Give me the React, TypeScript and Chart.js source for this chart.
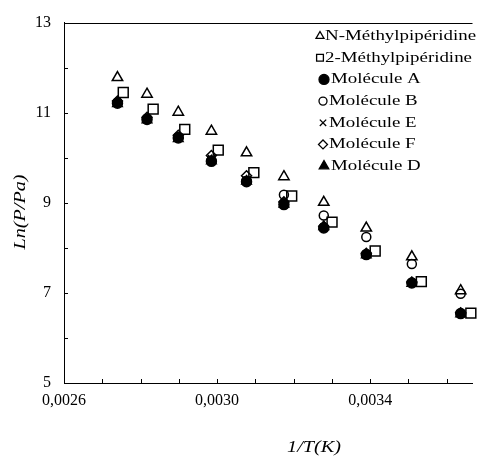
import React, { useEffect, useRef } from 'react';
import { Chart, registerables } from 'chart.js';
import { drawPoint } from 'chart.js/helpers';

Chart.register(...registerables);

// ---- data ----
const seriesNames = [
  'N-Méthylpipéridine',
  '2-Méthylpipéridine',
  'Molécule A',
  'Molécule B',
  'Molécule E',
  'Molécule F',
  'Molécule D',
];

// 1/T (K^-1)
const xMain = [0.0027397, 0.0028169, 0.0028986, 0.0029851, 0.0030769, 0.0031746, 0.0032787, 0.0033898, 0.0035088, 0.0036364];
const xSquare = [0.0027548, 0.0028329, 0.0029155, 0.003003, 0.003096, 0.0031949, 0.0033003, 0.003413, 0.0035336, 0.003663];

const yNMethyl = [11.78, 11.41, 11.01, 10.59, 10.11, 9.58, 9.01, 8.44, 7.8, 7.05];
const y2Methyl = [11.45, 11.08, 10.63, 10.17, 9.67, 9.15, 8.57, 7.93, 7.25, 6.55];
const yMolA = [11.21, 10.85, 10.44, 9.92, 9.47, 8.96, 8.44, 7.85, 7.22, 6.54];
const yMolB = [11.23, 10.87, 10.46, 9.94, 9.49, 9.18, 8.72, 8.24, 7.64, 6.98];
const yMolE = [11.22, 10.86, 10.45, 9.98, 9.5, 8.99, 8.46, 7.86, 7.23, 6.55];
const yMolF = [11.26, 10.9, 10.5, 10.05, 9.6, 9.02, 8.48, 7.88, 7.24, 6.56];
const yMolD = [11.2, 10.84, 10.42, 9.93, 9.48, 8.97, 8.47, 7.84, 7.21, 6.53];

const xTickValues = [0.0026, 0.0027, 0.0028, 0.0029, 0.003, 0.0031, 0.0032, 0.0033, 0.0034, 0.0035, 0.0036];
const xLabelledTicks = [0.0026, 0.003, 0.0034];
const yLabelledTicks = [5, 7, 9, 11, 13];

const X_MIN = 0.0026;
const X_MAX = 0.0036673;
const Y_MIN = 5;
const Y_MAX = 13;

// ---- styles ----
type Sty = { style: string; r: number; filled: boolean; lr: number; lx: number; tx: number; order: number };
const styles: Sty[] = [
  { style: 'triangle', r: 6, filled: false, lr: 4.6, lx: 320, tx: 325, order: 7 },
  { style: 'rect', r: 7, filled: false, lr: 4.8, lx: 320, tx: 325, order: 6 },
  { style: 'circle', r: 5, filled: true, lr: 5, lx: 324, tx: 331, order: 4 },
  { style: 'circle', r: 4.5, filled: false, lr: 4, lx: 323, tx: 329, order: 5 },
  { style: 'crossRot', r: 5, filled: false, lr: 4.5, lx: 323, tx: 329, order: 2 },
  { style: 'rectRot', r: 5, filled: false, lr: 4.5, lx: 323, tx: 329, order: 1 },
  { style: 'triangle', r: 5.5, filled: true, lr: 5.5, lx: 324, tx: 331, order: 3 },
];

const seriesY = [yNMethyl, y2Methyl, yMolA, yMolB, yMolE, yMolF, yMolD];
const seriesX = [xMain, xSquare, xMain, xMain, xMain, xMain, xMain];

const FONT = '"Liberation Serif", "Times New Roman", serif';
const STRETCH = 1.26;

const fmtX = (v: number) => v.toFixed(4).replace('.', ',');

const decorPlugin = {
  id: 'decor',
  afterDraw(chart: any) {
    const { ctx, chartArea: a, scales } = chart;
    const xs = scales.x;
    const ys = scales.y;
    ctx.save();
    ctx.strokeStyle = '#000';
    ctx.lineWidth = 1;
    // top border
    ctx.beginPath();
    ctx.moveTo(a.left, Math.round(a.top) + 0.5);
    ctx.lineTo(a.right, Math.round(a.top) + 0.5);
    ctx.stroke();
    // inward tick marks
    ctx.beginPath();
    for (const v of xTickValues) {
      const px = Math.round(xs.getPixelForValue(v)) + 0.5;
      ctx.moveTo(px, a.bottom);
      ctx.lineTo(px, a.bottom - 4);
    }
    for (let v = Y_MIN; v <= Y_MAX; v++) {
      const py = Math.round(ys.getPixelForValue(v)) + 0.5;
      ctx.moveTo(a.left, py);
      ctx.lineTo(a.left + 4, py);
    }
    ctx.stroke();

    // axis titles
    ctx.fillStyle = '#000';
    ctx.textAlign = 'center';
    ctx.textBaseline = 'middle';
    ctx.font = 'italic 16px ' + FONT;
    ctx.save();
    ctx.translate(314, 448);
    ctx.scale(STRETCH, 1);
    ctx.fillText('1/T(K)', 0, 0);
    ctx.restore();
    ctx.save();
    ctx.translate(21, 212);
    ctx.rotate(-Math.PI / 2);
    ctx.scale(STRETCH, 1);
    ctx.fillText('Ln(P/Pa)', 0, 0);
    ctx.restore();

    // legend
    ctx.font = '15px ' + FONT;
    ctx.textAlign = 'left';
    const top = a.top + 13.5;
    const step = 21.67;
    seriesNames.forEach((name, i) => {
      const s = styles[i];
      const y = top + i * step;
      ctx.fillStyle = s.filled ? '#000' : 'rgba(0,0,0,0)';
      ctx.strokeStyle = '#000';
      ctx.lineWidth = 1.3;
      drawPoint(ctx, { pointStyle: s.style, radius: s.lr, borderWidth: 1.3, rotation: 0 } as any, s.lx, y);
      ctx.fillStyle = '#000';
      ctx.save();
      ctx.translate(s.tx, y);
      ctx.scale(STRETCH, 1);
      ctx.fillText(name, 0, 0);
      ctx.restore();
    });
    ctx.restore();
  },
};

export default function App() {
  const ref = useRef<HTMLCanvasElement | null>(null);
  useEffect(() => {
    if (!ref.current) return;
    const datasets = seriesNames.map((name, i) => {
      const s = styles[i];
      return {
        label: name,
        data: seriesX[i].map((x, j) => ({ x, y: seriesY[i][j] })),
        pointStyle: s.style,
        pointRadius: s.r,
        pointBackgroundColor: s.filled ? '#000' : 'rgba(0,0,0,0)',
        pointBorderColor: '#000',
        pointBorderWidth: 1.5,
        showLine: false,
        order: s.order,
        clip: false as any,
      };
    });
    const chart = new Chart(ref.current, {
      type: 'scatter',
      data: { datasets: datasets as any },
      plugins: [decorPlugin],
      options: {
        responsive: false,
        animation: false,
        events: [],
        layout: { padding: { top: 19, left: 0, right: 0, bottom: 0 } },
        plugins: { legend: { display: false }, tooltip: { enabled: false } },
        scales: {
          x: {
            type: 'linear',
            min: X_MIN,
            max: X_MAX,
            afterBuildTicks: (scale: any) => {
              scale.ticks = xTickValues.map((v) => ({ value: v }));
            },
            afterFit: (scale: any) => {
              scale.height = 73;
            },
            grid: { display: true, drawOnChartArea: false, drawTicks: false },
            border: { display: true, color: '#000', width: 1 },
            ticks: {
              autoSkip: false,
              maxRotation: 0,
              padding: 8,
              color: '#000',
              font: { family: FONT, size: 16 },
              callback: (v: any) => (xLabelledTicks.some((l) => Math.abs(l - Number(v)) < 1e-9) ? fmtX(Number(v)) : ''),
            },
          },
          y: {
            type: 'linear',
            min: Y_MIN,
            max: Y_MAX,
            afterFit: (scale: any) => {
              scale.width = 64;
            },
            grid: { display: true, drawOnChartArea: false, drawTicks: false },
            border: { display: true, color: '#000', width: 1 },
            ticks: {
              stepSize: 1,
              autoSkip: false,
              padding: 13,
              color: '#000',
              font: { family: FONT, size: 16 },
              callback: (v: any) => (yLabelledTicks.includes(Number(v)) ? String(v) : ''),
            },
          },
        },
      },
    });
    return () => chart.destroy();
  }, []);
  return (
    <div style={{ position: 'fixed', left: 0, top: 0, width: 481, height: 456, overflow: 'hidden', background: '#fff' }}>
      <canvas ref={ref} width={481} height={456} style={{ display: 'block' }} />
    </div>
  );
}
